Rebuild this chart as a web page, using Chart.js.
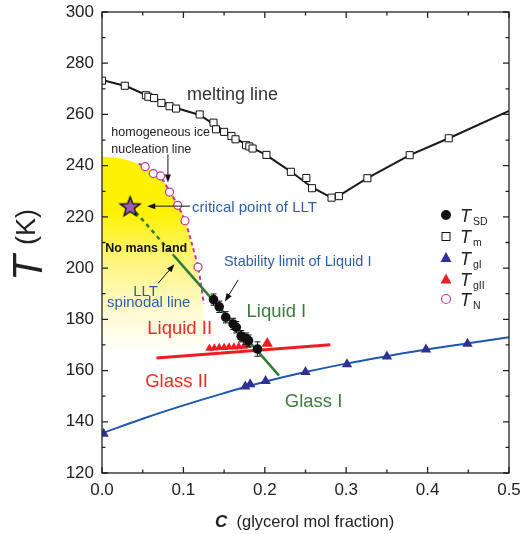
<!DOCTYPE html>
<html>
<head>
<meta charset="utf-8">
<script src="https://cdn.jsdelivr.net/npm/chart.js@4.4.1/dist/chart.umd.min.js"></script>
<style>
  body { margin: 0; background: #fff; }
  #box { position: relative; width: 521px; height: 534px; }
</style>
</head>
<body>
<div id="box"><canvas id="phase-chart" width="521" height="534"></canvas></div>
<script>
const FONT = '"Liberation Sans", Arial, Helvetica, sans-serif';

// axis ticks
const xTicks = [0, 0.1, 0.2, 0.3, 0.4, 0.5];
const yTicks = [120, 140, 160, 180, 200, 220, 240, 260, 280, 300];

// T_m : melting points
const meltC = [0.0, 0.028, 0.054, 0.057, 0.064, 0.073, 0.083, 0.091, 0.120, 0.137, 0.140, 0.150, 0.159, 0.164, 0.177, 0.181, 0.185, 0.202, 0.232, 0.251, 0.258, 0.282, 0.291, 0.326, 0.378, 0.426];
const meltT = [273.2, 271.2, 267.5, 266.9, 266.4, 264.5, 263.2, 262.3, 260.0, 256.8, 254.2, 253.2, 251.6, 250.3, 248.0, 247.5, 246.7, 244.2, 237.6, 235.2, 231.2, 227.5, 228.1, 235.1, 244.1, 250.7];
// melting line
const meltLineC = [0, 0.03, 0.06, 0.09, 0.12, 0.15, 0.18, 0.2, 0.232, 0.258, 0.285, 0.326, 0.378, 0.426, 0.5];
const meltLineT = [273.5, 271, 266.8, 262.6, 259.8, 253.5, 247.6, 244.5, 237.7, 231.5, 227, 235.1, 244.1, 250.7, 261.4];

// T_N : homogeneous ice nucleation
const nucC = [0.053, 0.063, 0.072, 0.083, 0.093, 0.102, 0.118];
const nucT = [239.6, 236.9, 236.0, 229.7, 224.5, 218.5, 200.4];
const nucLineC = [0.045, 0.053, 0.063, 0.072, 0.083, 0.093, 0.102, 0.110, 0.118, 0.122, 0.125];
const nucLineT = [240.8, 239.6, 237.0, 235.5, 230.0, 224.5, 218.5, 210.0, 200.4, 193.0, 186.0];

// "no mans land" boundary
const nmlC = [0, 0.02, 0.035, 0.05, 0.065, 0.08, 0.092, 0.1, 0.108, 0.115, 0.12, 0.124, 0.127, 0.128];
const nmlT = [243.6, 243.0, 241.8, 239.8, 236.8, 232.0, 226.0, 220.0, 212.0, 203.0, 194.0, 185.0, 175.0, 166.0];

// T_SD : stability limit of liquid I
const sdC = [0.137, 0.144, 0.152, 0.161, 0.165, 0.171, 0.177, 0.180, 0.191];
const sdT = [187.7, 184.9, 180.8, 178.2, 176.9, 173.4, 172.5, 171.7, 168.4];
const sdErr = [2.2, 2.2, 2.2, 2.2, 2.2, 2.2, 2.2, 2.2, 2.8];

// LLT spinodal / liquid I line
const spinDashC = [0.035, 0.088];
const spinDashT = [224.2, 205.0];
const spinC = [0.088, 0.2175];
const spinT = [205.0, 158.0];

// critical point of LLT
const critC = [0.0346];
const critT = [224.2];

// T_gII : glass II
const g2C = [0.132, 0.138, 0.144, 0.150, 0.156, 0.162, 0.168, 0.174, 0.179, 0.203];
const g2T = [168.7, 168.8, 169.0, 169.0, 169.2, 169.2, 169.4, 169.5, 169.7, 170.6];
const g2LineC = [0.067, 0.2805];
const g2LineT = [164.9, 170.1];

// T_gI : glass I
const g1C = [0.002, 0.176, 0.182, 0.201, 0.250, 0.301, 0.350, 0.398, 0.449];
const g1T = [135.3, 153.8, 154.7, 155.9, 159.4, 162.5, 165.5, 168.2, 170.5];
const g1LineC = [0, 0.05, 0.1, 0.15, 0.2, 0.25, 0.3, 0.35, 0.4, 0.45, 0.5];
const g1LineT = [135.5, 141.2, 146.4, 151.2, 155.6, 159.4, 162.7, 165.6, 168.3, 170.7, 173.0];

const legendSubs = ['SD', 'm', 'gI', 'gII', 'N'];

const pts = (cs, ts) => cs.map((c, i) => ({ x: c, y: ts[i] }));

function makeStar(r, fill) {
    const s = Math.ceil(r * 2 + 4);
    const c = document.createElement('canvas');
    c.width = s; c.height = s;
    const g = c.getContext('2d');
    g.beginPath();
    for (let i = 0; i < 10; i++) {
        const rad = i % 2 ? r * 0.42 : r;
        const a = -Math.PI / 2 + i * Math.PI / 5;
        g.lineTo(s / 2 + rad * Math.cos(a), s / 2 + 1 + rad * Math.sin(a));
    }
    g.closePath();
    g.fillStyle = fill;
    g.fill();
    g.lineWidth = 1.3;
    g.strokeStyle = '#000';
    g.stroke();
    return c;
}

function arrow(ctx, x1, y1, x2, y2) {
    const a = Math.atan2(y2 - y1, x2 - x1), L = 8, W = 3;
    ctx.beginPath();
    ctx.moveTo(x1, y1);
    ctx.lineTo(x2 - Math.cos(a) * L * 0.7, y2 - Math.sin(a) * L * 0.7);
    ctx.stroke();
    ctx.beginPath();
    ctx.moveTo(x2, y2);
    ctx.lineTo(x2 - L * Math.cos(a) + W * Math.sin(a), y2 - L * Math.sin(a) - W * Math.cos(a));
    ctx.lineTo(x2 - L * Math.cos(a) - W * Math.sin(a), y2 - L * Math.sin(a) + W * Math.cos(a));
    ctx.closePath();
    ctx.fill();
}

// text labels in data coordinates (left edge, vertical centre)
const notes = [
    { t: 'melting line', c: 0.1045, T: 267.5, font: '18px', color: '#333' },
    { t: 'homogeneous ice', c: 0.0115, T: 252.9, font: '12.5px', color: '#222' },
    { t: 'nucleation line', c: 0.0115, T: 246.4, font: '12.5px', color: '#222' },
    { t: 'critical point of LLT', c: 0.1107, T: 223.6, font: '15px', color: '#2F5DA8' },
    { t: 'No mans land', c: 0.004, T: 207.8, font: 'bold 12.5px', color: '#111' },
    { t: 'LLT', c: 0.0384, T: 190.9, font: '15px', color: '#2F5DA8' },
    { t: 'spinodal line', c: 0.0062, T: 186.4, font: '15px', color: '#2F5DA8' },
    { t: 'Stability limit of Liquid I', c: 0.1498, T: 202.3, font: '14.5px', color: '#2F5DA8' },
    { t: 'Liquid I', c: 0.1776, T: 183.0, font: '18.5px', color: '#3A7D3F' },
    { t: 'Liquid II', c: 0.0556, T: 176.3, font: '18.5px', color: '#EE2A24' },
    { t: 'Glass II', c: 0.0531, T: 155.7, font: '18.5px', color: '#EE2A24' },
    { t: 'Glass I', c: 0.2245, T: 147.9, font: '18.5px', color: '#3A7D3F' }
];
const arrows = [
    [0.081, 244.4, 0.081, 233.4],
    [0.108, 224.2, 0.0556, 224.2],
    [0.069, 194.1, 0.089, 201.5],
    [0.1673, 195.4, 0.151, 187.0]
];

const overlay = {
    id: 'overlay',
    afterDatasetsDraw(chart) {
        const { ctx, chartArea: a, scales: { x, y } } = chart;
        ctx.save();
        // error bars
        ctx.strokeStyle = '#111';
        ctx.lineWidth = 1;
        sdC.forEach((c, i) => {
            const px = x.getPixelForValue(c);
            const y1 = y.getPixelForValue(sdT[i] + sdErr[i]);
            const y2 = y.getPixelForValue(sdT[i] - sdErr[i]);
            ctx.beginPath();
            ctx.moveTo(px, y1); ctx.lineTo(px, y2);
            ctx.moveTo(px - 3, y1); ctx.lineTo(px + 3, y1);
            ctx.moveTo(px - 3, y2); ctx.lineTo(px + 3, y2);
            ctx.stroke();
        });
        // arrows
        ctx.strokeStyle = '#111';
        ctx.fillStyle = '#111';
        arrows.forEach(([c1, t1, c2, t2]) => {
            arrow(ctx, x.getPixelForValue(c1), y.getPixelForValue(t1), x.getPixelForValue(c2), y.getPixelForValue(t2));
        });
        // labels
        ctx.textBaseline = 'middle';
        ctx.textAlign = 'left';
        notes.forEach(n => {
            ctx.font = n.font + ' ' + FONT;
            ctx.fillStyle = n.color;
            ctx.fillText(n.t, x.getPixelForValue(n.c), y.getPixelForValue(n.T));
        });

        // frame and inward ticks
        ctx.strokeStyle = '#222';
        ctx.lineWidth = 1.3;
        ctx.strokeRect(a.left, a.top, a.right - a.left, a.bottom - a.top);
        ctx.beginPath();
        const tickY = (v, len) => {
            const p = y.getPixelForValue(v);
            ctx.moveTo(a.left, p); ctx.lineTo(a.left + len, p);
            ctx.moveTo(a.right, p); ctx.lineTo(a.right - len, p);
        };
        const tickX = (v, len) => {
            const p = x.getPixelForValue(v);
            ctx.moveTo(p, a.bottom); ctx.lineTo(p, a.bottom - len);
            ctx.moveTo(p, a.top); ctx.lineTo(p, a.top + len);
        };
        yTicks.forEach((v, i) => {
            tickY(v, 6);
            if (i < yTicks.length - 1) tickY((v + yTicks[i + 1]) / 2, 3.5);
        });
        xTicks.forEach((v, i) => {
            tickX(v, 6);
            if (i < xTicks.length - 1) tickX((v + xTicks[i + 1]) / 2, 3.5);
        });
        ctx.stroke();
        ctx.restore();
    },
    afterDraw(chart) {
        const { ctx } = chart;
        ctx.save();
        ctx.fillStyle = '#222';
        ctx.textBaseline = 'alphabetic';
        // y title
        ctx.save();
        ctx.translate(42, 281);
        ctx.rotate(-Math.PI / 2);
        ctx.font = 'italic 42px ' + FONT;
        ctx.fillText('T', 0, 0);
        ctx.font = '27px ' + FONT;
        ctx.fillText('(K)', 36, -7.5);
        ctx.restore();
        // x title
        ctx.font = 'bold italic 17px ' + FONT;
        ctx.fillText('C', 215, 526.5);
        ctx.font = '16.5px ' + FONT;
        ctx.fillText('(glycerol mol fraction)', 236.5, 526.5);

        // legend
        const lx = 446, rows = [215, 236.5, 258, 279.5, 299];
        // T_SD
        ctx.fillStyle = '#111';
        ctx.beginPath(); ctx.arc(lx, rows[0], 5, 0, Math.PI * 2); ctx.fill();
        // T_m
        ctx.fillStyle = '#fff'; ctx.strokeStyle = '#111'; ctx.lineWidth = 1;
        ctx.fillRect(lx - 4, rows[1] - 4, 8, 8); ctx.strokeRect(lx - 4, rows[1] - 4, 8, 8);
        // triangles
        const tri = (cy, col) => {
            ctx.fillStyle = col;
            ctx.beginPath();
            ctx.moveTo(lx, cy - 6); ctx.lineTo(lx + 5.5, cy + 4); ctx.lineTo(lx - 5.5, cy + 4);
            ctx.closePath(); ctx.fill();
        };
        tri(rows[2], '#2E3192');
        tri(rows[3], '#EE1C24');
        // T_N
        ctx.strokeStyle = '#C4389B'; ctx.lineWidth = 1.2; ctx.fillStyle = '#fff';
        ctx.beginPath(); ctx.arc(lx, rows[4], 4.5, 0, Math.PI * 2); ctx.fill(); ctx.stroke();
        // labels
        ctx.fillStyle = '#222';
        legendSubs.forEach((s, i) => {
            ctx.font = 'italic 18px ' + FONT;
            ctx.fillText('T', 460, rows[i] + 6.5);
            ctx.font = '10.5px ' + FONT;
            ctx.fillText(s, 473, rows[i] + 9.5);
        });
        ctx.restore();
    }
};

const yellowFill = (context) => {
    const chart = context.chart;
    if (!chart.chartArea) return '#FFF200';
    const y = chart.scales.y;
    const g = chart.ctx.createLinearGradient(0, y.getPixelForValue(244), 0, y.getPixelForValue(166));
    g.addColorStop(0, '#FFF200');
    g.addColorStop(0.28, '#FFF200');
    g.addColorStop(0.55, '#FFF585');
    g.addColorStop(0.8, '#FFFBD6');
    g.addColorStop(1, '#FFFFFF');
    return g;
};

const ctx = document.getElementById('phase-chart').getContext('2d');
new Chart(ctx, {
    type: 'scatter',
    data: {
        datasets: [
            { label: 'star', data: pts(critC, critT), pointStyle: makeStar(10.5, '#9B5CB2'), pointRadius: 11, order: 0, clip: false },
            { label: 'T_SD', data: pts(sdC, sdT), pointStyle: 'circle', pointRadius: 4.8, backgroundColor: '#111', borderColor: '#111', borderWidth: 0, order: 1 },
            { label: 'T_gII', data: pts(g2C, g2T), pointStyle: 'triangle', pointRadius: g2C.map((c, i) => i === g2C.length - 1 ? 6.5 : 4.8), backgroundColor: '#EE1C24', borderColor: '#EE1C24', borderWidth: 0, order: 2 },
            { label: 'T_gI', data: pts(g1C, g1T), pointStyle: 'triangle', pointRadius: 6, backgroundColor: '#2E3192', borderColor: '#2E3192', borderWidth: 0, order: 3 },
            { label: 'T_N', data: pts(nucC, nucT), pointStyle: 'circle', pointRadius: 4, backgroundColor: '#fff', borderColor: '#C4389B', borderWidth: 1.2, order: 4 },
            { label: 'T_m', data: pts(meltC, meltT), pointStyle: 'rect', pointRadius: 5, backgroundColor: '#fff', borderColor: '#111', borderWidth: 1, order: 5 },
            { label: 'glass II line', data: pts(g2LineC, g2LineT), showLine: true, pointRadius: 0, borderColor: '#EE1C24', borderWidth: 3, order: 6 },
            { label: 'glass I line', data: pts(g1LineC, g1LineT), showLine: true, tension: 0.4, pointRadius: 0, borderColor: '#1F58B0', borderWidth: 2, order: 7 },
            { label: 'spinodal', data: pts(spinC, spinT), showLine: true, pointRadius: 0, borderColor: '#2E7D32', borderWidth: 2.5, order: 8 },
            { label: 'spinodal dashed', data: pts(spinDashC, spinDashT), showLine: true, pointRadius: 0, borderColor: '#2E7D32', borderWidth: 2.5, borderDash: [4, 4], order: 9 },
            { label: 'melting line', data: pts(meltLineC, meltLineT), showLine: true, pointRadius: 0, borderColor: '#1a1a1a', borderWidth: 2, order: 10 },
            { label: 'nucleation line', data: pts(nucLineC, nucLineT), showLine: true, tension: 0.3, pointRadius: 0, borderColor: '#C4389B', borderWidth: 2, borderDash: [4, 3], order: 11 },
            { label: 'no mans land', data: pts(nmlC, nmlT), showLine: true, tension: 0.3, pointRadius: 0, borderWidth: 0, borderColor: 'rgba(0,0,0,0)', backgroundColor: yellowFill, fill: { value: 166 }, order: 12 }
        ]
    },
    options: {
        responsive: false,
        animation: false,
        events: [],
        layout: { padding: { top: 12, right: 11, left: 0, bottom: 0 } },
        plugins: { legend: { display: false }, tooltip: { enabled: false } },
        scales: {
            x: {
                type: 'linear', min: 0, max: 0.5,
                grid: { display: false, drawTicks: false },
                border: { display: false },
                afterBuildTicks: s => { s.ticks = xTicks.map(v => ({ value: v })); },
                afterFit: s => { s.height = 61; s.paddingLeft = 0; s.paddingRight = 0; },
                ticks: { font: { family: FONT, size: 17 }, color: '#222', padding: 7, maxRotation: 0, autoSkip: false, callback: v => v.toFixed(1) }
            },
            y: {
                type: 'linear', min: 120, max: 300,
                grid: { display: false, drawTicks: false },
                border: { display: false },
                afterBuildTicks: s => { s.ticks = yTicks.map(v => ({ value: v })); },
                afterFit: s => { s.width = 102; s.paddingTop = 0; s.paddingBottom = 0; },
                ticks: { font: { family: FONT, size: 17 }, color: '#222', padding: 8, autoSkip: false }
            }
        }
    },
    plugins: [overlay]
});
</script>
</body>
</html>
